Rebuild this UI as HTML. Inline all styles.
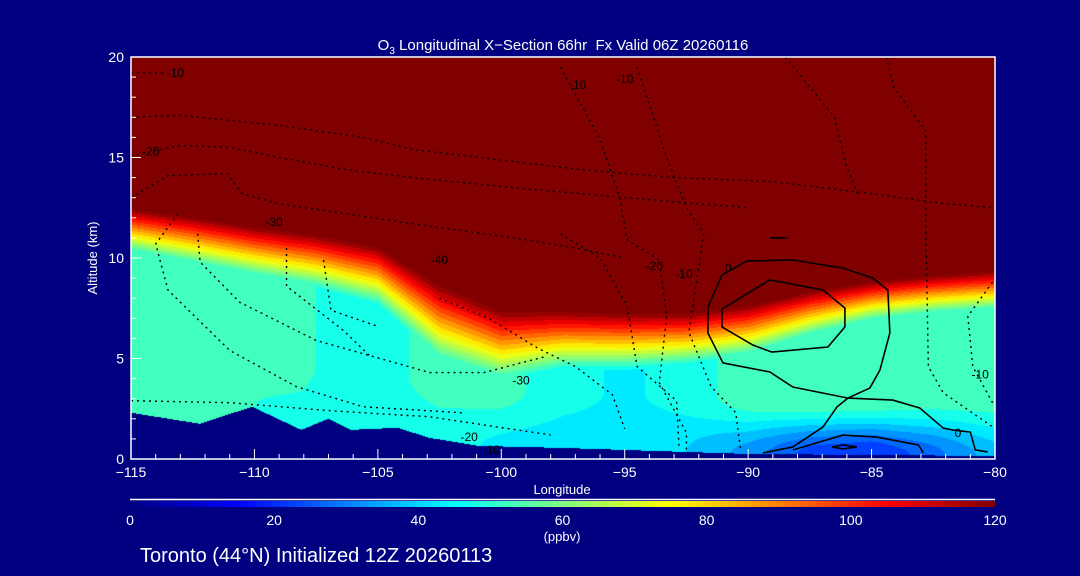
<!DOCTYPE html>
<html><head><meta charset="utf-8">
<style>
html,body{margin:0;padding:0;background:#000080;}
#wrap{position:relative;width:1080px;height:576px;background:#000080;overflow:hidden;font-family:"Liberation Sans",sans-serif;}
#field{position:absolute;left:131px;top:57px;}
#ov{position:absolute;left:0;top:0;}
text{font-family:"Liberation Sans",sans-serif;}
</style></head>
<body>
<div id="wrap">
<canvas id="field" width="864" height="402"></canvas>
<svg id="ov" width="1080" height="576"></svg>
</div>
<script>
// ---- data ----
const gridLons   = [-115,-112.5,-110,-107.5,-105,-102.5,-100,-97.5,-95,-92.5,-90,-87.5,-85,-82.5,-80];
const tropoTop   = [12.4,12.0,11.5,11.1,10.5,8.6,7.3,7.3,7.2,7.2,7.6,8.3,8.8,9.1,9.3];
const bandDepth  = [2.0,2.2,2.3,2.5,2.8,3.5,3.2,2.8,2.8,2.5,2.3,2.0,1.8,1.8,1.8];
const midVal     = [52,52,52,50,48,52,52,47,44,47,53,55,54,52,52];
const sfcVal     = [50,50,50,48,48,47,44,42,41,40,33,23,20,28,38];
const terrLons   = [-115,-112.2,-110.1,-108.1,-107,-106.1,-104.2,-102.9,-100.9,-97.5,-95,-90,-85,-80];
const terrHeight = [2.3,1.75,2.6,1.45,2.0,1.45,1.55,1.05,0.65,0.55,0.45,0.25,0.2,0.15];
const xTicks = [-115,-110,-105,-100,-95,-90,-85,-80];
const yTicks = [0,5,10,15,20];
const cbTicks = [0,20,40,60,80,100,120];
// contour lines [lon, alt]
const solidContours = [
 [[-91.06,9.15],[-90.05,9.85],[-88.19,9.9],[-86.16,9.5],[-84.95,9.0],[-84.34,8.41],[-84.26,6.27],[-84.66,4.43],[-85.07,3.53],[-85.96,3.03],[-88.19,3.58],[-89.12,4.33],[-91.02,4.78],[-91.63,6.27],[-91.63,7.56],[-91.06,9.15]],
 [[-91.06,7.46],[-89.12,8.91],[-86.97,8.41],[-86.08,7.51],[-86.08,6.57],[-86.77,5.57],[-89.04,5.32],[-89.81,5.67],[-91.06,6.57],[-91.06,7.46]],
 [[-85.96,3.03],[-84.14,2.93],[-83.05,2.54],[-82.1,1.54],[-81.7,1.44],[-81.0,1.34],[-80.8,0.45],[-80.3,0.35]],
 [[-85.96,3.03],[-86.4,2.59],[-86.97,1.59],[-88.19,0.6],[-89.4,0.3]],
 [[-88.19,0.45],[-86.16,1.19],[-84.8,1.09],[-83.1,0.7],[-82.9,0.3]],
 [[-86.6,0.6],[-86.16,0.7],[-85.6,0.6],[-86.16,0.5],[-86.6,0.6]],
 [[-89.12,11.0],[-88.4,11.0]]
];
const dottedContours = [
 [[-115,19.2],[-113.6,19.2]],
 [[-115,17.0],[-113.0,17.1],[-109.0,16.6],[-105.6,16.0],[-103.6,15.4],[-99.5,14.8],[-96.8,14.4],[-93,14.0],[-89,13.8],[-85,13.2],[-82,12.7],[-80,12.5]],
 [[-115,15.1],[-113.0,15.6],[-111.0,15.5],[-109.0,15.0],[-106.3,14.4],[-103.6,14.0],[-99.5,13.5],[-96.8,13.2],[-93,12.8],[-90,12.5]],
 [[-115,13.0],[-113.5,14.1],[-111.1,14.2],[-110.5,13.2],[-109.0,12.7],[-106.3,12.2],[-103.6,11.7],[-99.5,11.0],[-97,10.5],[-95,10.0]],
 [[-113.1,12.2],[-114.0,10.7],[-113.5,8.4],[-111.0,5.4],[-108.3,3.6],[-105.6,2.6],[-101.6,2.3]],
 [[-112.3,11.2],[-112.2,9.8],[-110.6,7.8],[-107.5,5.9],[-105.2,5.1],[-102.9,4.3],[-100.7,4.3],[-98.2,5.1]],
 [[-108.7,10.5],[-108.7,8.6],[-106.4,6.4],[-105.3,5.1]],
 [[-107.2,9.9],[-106.9,7.4],[-105.0,6.6]],
 [[-115,2.9],[-111.0,2.8],[-106.9,2.4],[-102.9,2.1],[-100.2,1.6],[-98,1.2]],
 [[-102.5,8.0],[-100.5,7.0],[-98.5,5.5],[-97,4.6],[-95.5,3.2],[-95,1.5]],
 [[-97.6,19.5],[-96.0,15.9],[-95.2,13.0],[-94.9,10.9],[-93.6,9.9],[-93.3,7.1],[-93.6,3.8],[-92.5,1.3],[-92.5,0.4]],
 [[-94.5,19.5],[-93.3,15],[-92.5,12.5],[-91.8,11.2],[-92.4,6.3],[-91.5,3.6],[-90.5,2.3],[-90.3,0.4]],
 [[-97.6,11.2],[-96.0,10.0],[-94.9,7.6],[-94.5,4.6],[-92.9,2.9],[-92.8,0.6]],
 [[-84.4,20],[-84.1,18.5],[-82.8,16.3],[-82.8,11.5],[-82.7,4.6],[-82.1,3.3],[-80.1,1.6]],
 [[-80.1,8.8],[-81.1,7.1],[-80.9,4.6],[-80.1,2.8]],
 [[-88.5,20],[-86.5,17],[-86,14.5],[-85.5,13]]
];
const contourLabels = [["-10",-113.2,19.2],["-20",-114.2,15.3],["-30",-109.2,11.8],["-40",-102.5,9.9],["-30",-99.2,3.9],["-20",-101.3,1.1],["-10",-100.4,0.45],["-20",-93.8,9.6],["-10",-92.6,9.2],["0",-90.8,9.5],["0",-81.5,1.3],["-10",-80.6,4.2],["-10",-96.9,18.6],["-10",-95,18.9]];

// ---- scales ----
const PX0=131, PX1=995, PY0=57, PY1=459;
const xS = lon => PX0 + (lon + 115) / 35 * (PX1 - PX0);
const yS = alt => PY1 - alt / 20 * (PY1 - PY0);
function interp(xs, ys, x){
  if (x <= xs[0]) return ys[0];
  for (let i=1;i<xs.length;i++){ if (x <= xs[i]) { const t=(x-xs[i-1])/(xs[i]-xs[i-1]); return ys[i-1]+t*(ys[i]-ys[i-1]); } }
  return ys[ys.length-1];
}
function jet(v){
  const t = Math.max(0, Math.min(1, v/120));
  const c = a => Math.round(255*Math.max(0,Math.min(1,a)));
  return [c(1.5-Math.abs(4*t-3)), c(1.5-Math.abs(4*t-2)), c(1.5-Math.abs(4*t-1))];
}
function value(lon, alt){
  const g = interp(terrLons, terrHeight, lon);
  if (alt < g) return -1;
  const T = interp(gridLons, tropoTop, lon), B = interp(gridLons, bandDepth, lon);
  const lo = interp(gridLons, sfcVal, lon), mi = interp(gridLons, midVal, lon);
  let f = Math.min(1, (alt - g) / 2.8); f = f*f*(3-2*f);
  let tv = lo + (mi - lo) * f;
  if (alt >= T) return 120;
  if (alt > T - B) { const fr = (alt - (T - B)) / B; return tv + (120 - tv) * fr; }
  return tv;
}
// ---- field ----
const cv = document.getElementById('field'), ctx = cv.getContext('2d');
const W = cv.width, H = cv.height, img = ctx.createImageData(W, H);
for (let py=0; py<H; py++){
  const alt = (PY1 - (PY0+py+0.5)) / (PY1-PY0) * 20;
  for (let px=0; px<W; px++){
    const lon = -115 + (px+0.5)/W*35;
    const v = value(lon, alt);
    let col = v < 0 ? [0,0,128] : jet(Math.min(120, Math.floor(v/5)*5 + (v>=120?0:2.5)));
    const k = (py*W+px)*4;
    img.data[k]=col[0]; img.data[k+1]=col[1]; img.data[k+2]=col[2]; img.data[k+3]=255;
  }
}
ctx.putImageData(img,0,0);

// ---- overlay ----
const svg = document.getElementById('ov'), NS='http://www.w3.org/2000/svg';
function mk(tag, attrs, parent){ const e=document.createElementNS(NS,tag); for (const k in attrs) e.setAttribute(k, attrs[k]); (parent||svg).appendChild(e); return e; }
function txt(s, x, y, size, anchor, fill){ const t=mk('text',{x:x,y:y,'font-size':size,'text-anchor':anchor||'middle',fill:fill||'#fff'}); t.textContent=s; return t; }

const gC = mk('g',{});


dottedContours.forEach(line=>{
  const p = mk('polyline',{points:line.map(q=>xS(q[0])+','+yS(q[1])).join(' '),fill:'none',stroke:'#000','stroke-width':1.4,'stroke-dasharray':'2 4'}, gC);
  
  
});
solidContours.forEach(line=>{
  const p = mk('polyline',{points:line.map(q=>xS(q[0])+','+yS(q[1])).join(' '),fill:'none',stroke:'#000','stroke-width':1.6}, gC);
  
  
});
contourLabels.forEach(l=>{
  const t = mk('text',{x:xS(l[1]),y:yS(l[2])+4,'font-size':12,'text-anchor':'middle',fill:'#000'}, gC);
  t.textContent = l[0];
  
  
});

// axes box
const box = mk('rect',{x:PX0,y:PY0,width:PX1-PX0,height:PY1-PY0,fill:'none',stroke:'#fff','stroke-width':1.5});


for (let l=-115; l<=-80; l++){
  const major = (l % 5 === 0);
  const tk = mk('line',{x1:xS(l),x2:xS(l),y1:PY1,y2:PY1-(major?10:5),stroke:'#fff','stroke-width':1});
  
  
}
xTicks.forEach(l=>{
  const t = txt(String(l).replace('-','\u2212'), xS(l), 477, 14);
  
  
});
for (let a=0; a<=20; a++){
  const major = (a % 5 === 0);
  const tk = mk('line',{x1:PX0,x2:PX0+(major?10:5),y1:yS(a),y2:yS(a),stroke:'#fff','stroke-width':1});
  
  
}
yTicks.forEach(a=>{
  const t = txt(String(a), 124, yS(a)+5, 14, 'end');
  
  
});
let t;
t = txt('Longitude', 562, 494, 13);


t = txt('Altitude (km)', 97, 258, 13);
t.setAttribute('transform','rotate(-90 97 258)');


t = mk('text',{x:563,y:50,'font-size':15,'text-anchor':'middle',fill:'#fff'});
t.innerHTML = 'O<tspan font-size="10" dy="4">3</tspan><tspan dy="-4"> Longitudinal X\u2212Section 66hr\u00a0\u00a0Fx Valid 06Z 20260116</tspan>';



// colorbar
const defs = mk('defs',{});
const lg = mk('linearGradient',{id:'cbg',x1:0,x2:1,y1:0,y2:0}, defs);
for (let i=0;i<=24;i++){ const c=jet(i*5); mk('stop',{offset:(i/24),'stop-color':'rgb('+c.join(',')+')'}, lg); }
const cbl = mk('line',{x1:130,x2:995,y1:499.5,y2:499.5,stroke:'#fff','stroke-width':1.5});


const cb = mk('rect',{x:130,y:501,width:865,height:6,fill:'url(#cbg)'});


cbTicks.forEach(v=>{
  const tt = txt(String(v), 130 + v/120*865, 525, 14);
  
  
});
t = txt('(ppbv)', 562, 541, 13);


t = txt('Toronto (44\u00b0N) Initialized 12Z 20260113', 140, 562, 20, 'start');


</script>
</body></html>
